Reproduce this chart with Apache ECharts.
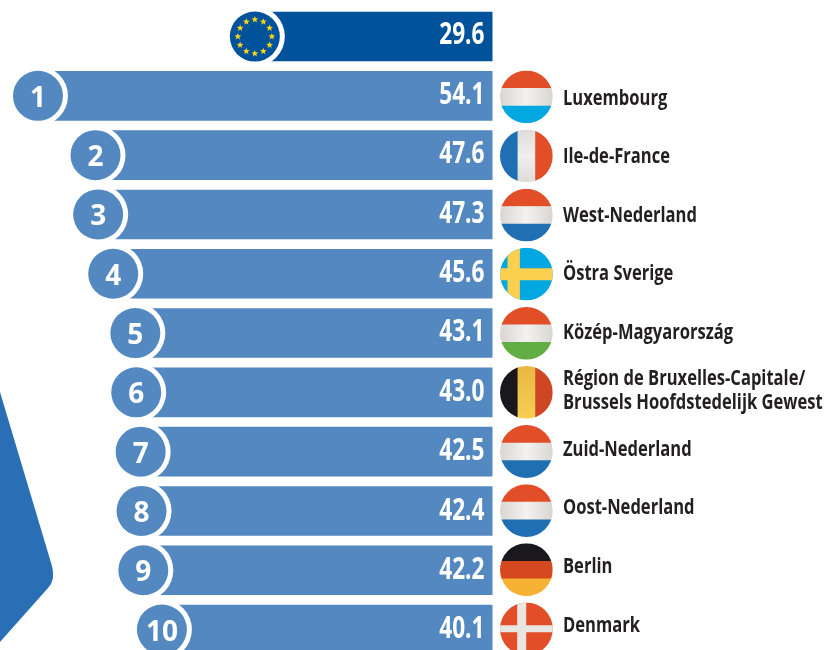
<!DOCTYPE html>
<html>
<head>
<meta charset="utf-8">
<style>html,body{margin:0;padding:0;background:#fff}#c{width:835px;height:650px}</style>
<script src="https://cdn.jsdelivr.net/npm/echarts@6/dist/echarts.min.js"></script>
</head>
<body>
<div id="c"></div>
<script>
const categories = ['EU','Luxembourg','Ile-de-France','West-Nederland','Östra Sverige','Közép-Magyarország','Région de Bruxelles-Capitale/\nBrussels Hoofdstedelijk Gewest','Zuid-Nederland','Oost-Nederland','Berlin','Denmark'];
const values = [29.6,54.1,47.6,47.3,45.6,43.1,43.0,42.5,42.4,42.2,40.1];
const ranks = ['','1','2','3','4','5','6','7','8','9','10'];
const flagKinds = ['eu','lu','fr','nl','se','hu','be','nl','nl','de','dk'];

const RED='#e14e27', BLUE='#1f6fb2', SKY='#00a7e0', BAR='#5488c0', EU='#00529b', INK='#231f20';
const white={type:'linear',x:0,y:0,x2:1,y2:0,colorStops:[{offset:0,color:'#d9d6d2'},{offset:.5,color:'#f3f2f0'},{offset:1,color:'#d9d6d2'}]};
const whiteV={type:'linear',x:0,y:0,x2:0,y2:1,colorStops:[{offset:0,color:'#dfdcd8'},{offset:.5,color:'#f0efed'},{offset:1,color:'#dfdcd8'}]};
const yellowV={type:'linear',x:0,y:0,x2:0,y2:1,colorStops:[{offset:0,color:'#e8b842'},{offset:1,color:'#f7ce52'}]};
const R=26.4;

function hStripes(cx,cy,cols){return cols.map((c,i)=>({type:'rect',shape:{x:cx-R,y:cy-R+i*2*R/3,width:2*R,height:2*R/3+(i<2?.5:0)},style:{fill:c}}));}
function vStripes(cx,cy,cols){return cols.map((c,i)=>({type:'rect',shape:{x:cx-R+i*2*R/3,y:cy-R,width:2*R/3+(i<2?.5:0),height:2*R},style:{fill:c}}));}
function cross(cx,cy,bg,fg,off,w,h){return [
  {type:'rect',shape:{x:cx-R,y:cy-R,width:2*R,height:2*R},style:{fill:bg}},
  {type:'rect',shape:{x:cx+off-w/2,y:cy-R,width:w,height:2*R},style:{fill:fg}},
  {type:'rect',shape:{x:cx-R,y:cy-h/2,width:2*R,height:h},style:{fill:fg}}];}
function flagParts(kind,cx,cy){
  switch(kind){
    case 'lu':return hStripes(cx,cy,[RED,white,SKY]);
    case 'nl':return hStripes(cx,cy,[RED,white,BLUE]);
    case 'hu':return hStripes(cx,cy,[RED,white,'#63ad45']);
    case 'de':return hStripes(cx,cy,['#1a181c','#d4491f','#f6b233']);
    case 'fr':return vStripes(cx,cy,[BLUE,whiteV,RED]);
    case 'be':return vStripes(cx,cy,['#1a181c',yellowV,'#cf4623']);
    case 'se':return cross(cx,cy,SKY,'#fbd04f',-12.7,12.4,12);
    case 'dk':return cross(cx,cy,RED,'#e8e6e3',-4.7,9,7);
  }
  return [];
}
function star(cx,cy,r){const p=[];for(let i=0;i<10;i++){const a=-Math.PI/2+i*Math.PI/5,q=i%2?r*.42:r;p.push([cx+q*Math.cos(a),cy+q*Math.sin(a)]);}return p;}
function txt(x,y,text,font,fill,align,sx){return {type:'text',x:x,y:y,scaleX:sx,scaleY:1,style:{text:text,font:font,fill:fill,textAlign:align,textVerticalAlign:'middle',lineHeight:24}};}

function renderRow(params,api){
  const i=params.dataIndex, v=api.value(0), pt=api.coord([v,api.value(1)]);
  const cx=pt[0], cy=pt[1], rEnd=params.coordSys.x+params.coordSys.width;
  const isEU=i===0, col=isEU?EU:BAR;
  const ch=[
    {type:'circle',shape:{cx:cx,cy:cy,r:30},style:{fill:'#fff'}},
    {type:'circle',shape:{cx:cx,cy:cy,r:25},style:{fill:col}},
    txt(rEnd-8,cy-1+i*.1,String(v.toFixed(1)),'bold 31px "Open Sans"','#fff','right',.73)
  ];
  if(isEU){
    for(let k=0;k<12;k++){const a=k*Math.PI/6;
      ch.push({type:'polygon',shape:{points:star(cx+17*Math.cos(a),cy+17*Math.sin(a),3.6)},style:{fill:'#ffd617'}});}
  } else {
    ch.push(txt(cx,cy+3,ranks[i],'bold 28px "Open Sans"','#fff','center',1));
    const fx=526.4, fy=cy+1-(i-1)*.19;
    ch.push({type:'group',clipPath:{type:'circle',shape:{cx:fx,cy:fy,r:R}},children:flagParts(flagKinds[i],fx,fy)});
    ch.push(txt(563,cy+3-(i-1)*.78,categories[i],'bold 21px "Open Sans"',INK,'left',.788));
  }
  return {type:'group',children:ch};
}

const chart=echarts.init(document.getElementById('c'),null,{renderer:'canvas'});
chart.setOption({
  animation:false,
  backgroundColor:'#fff',
  graphic:[{type:'polygon',z:0,shape:{points:[[0,392],[52,566],[53,572],[53,578],[51,584],[48,588],[0,642]]},style:{fill:'#2a6fb5'}}],
  grid:{left:0,width:492.5,top:6.9,height:652.3,containLabel:false,outerBoundsMode:'none'},
  xAxis:{type:'value',inverse:true,min:2.75,max:58.39,show:false},
  yAxis:{type:'category',inverse:true,data:categories,show:false},
  series:[
    {type:'bar',barWidth:49.6,silent:true,z:2,
     data:values.map((v,i)=>({value:v,itemStyle:{color:i===0?EU:BAR}}))},
    {type:'custom',z:3,silent:true,clip:false,renderItem:renderRow,encode:{x:0,y:1},
     data:values.map((v,i)=>[v,categories[i]])}
  ]
});
</script>
</body>
</html>
